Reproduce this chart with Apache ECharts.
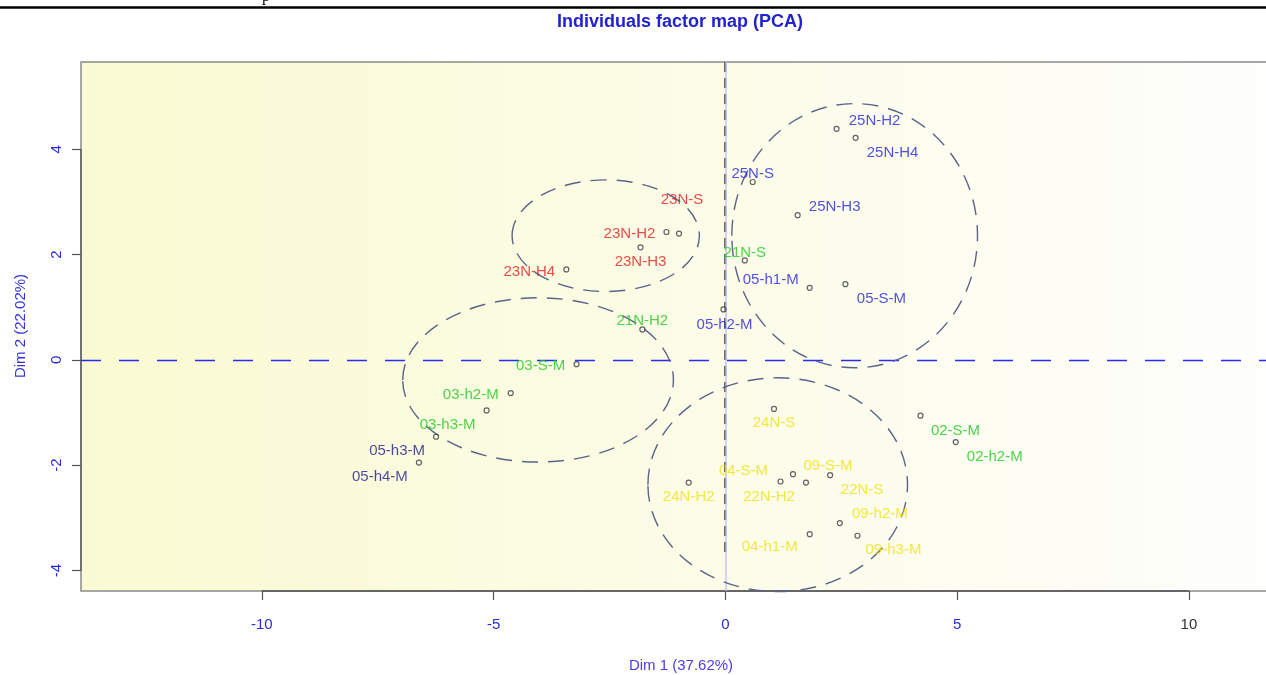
<!DOCTYPE html>
<html>
<head>
<meta charset="utf-8">
<script src="https://cdn.jsdelivr.net/npm/echarts@6/dist/echarts.min.js"></script>
<style>
  html, body { margin: 0; padding: 0; background: #ffffff; }
  #chart { width: 1266px; height: 675px; }
</style>
</head>
<body>
<div id="chart"></div>
<script>
// Individuals projected on the first two principal components
const individuals = [
  '23N-S', '23N-H2', '23N-H3', '23N-H4',
  '25N-H2', '25N-H4', '25N-S', '25N-H3',
  '21N-S', '21N-H2',
  '05-h1-M', '05-S-M', '05-h2-M', '05-h3-M', '05-h4-M',
  '03-S-M', '03-h2-M', '03-h3-M',
  '24N-S', '24N-H2',
  '04-S-M', '09-S-M', '22N-H2', '22N-S', '09-h2-M', '04-h1-M', '09-h3-M',
  '02-S-M', '02-h2-M'
];
const dim1 = [
  -1.00, -1.27, -1.83, -3.43,
  2.40, 2.81, 0.59, 1.56,
  0.42, -1.79,
  1.82, 2.59, -0.04, -6.24, -6.61,
  -3.21, -4.63, -5.15,
  1.05, -0.79,
  1.19, 1.46, 1.74, 2.26, 2.47, 1.82, 2.85,
  4.21, 4.97
];
const dim2 = [
  2.40, 2.43, 2.14, 1.72,
  4.39, 4.22, 3.38, 2.75,
  1.89, 0.58,
  1.37, 1.44, 0.96, -1.46, -1.95,
  -0.08, -0.63, -0.96,
  -0.93, -2.33,
  -2.31, -2.17, -2.33, -2.19, -3.10, -3.31, -3.34,
  -1.06, -1.56
];
const groupOf = [
  'red', 'red', 'red', 'red',
  'blue', 'blue', 'blue', 'blue',
  'green', 'green',
  'blue', 'blue', 'blue', 'navy', 'navy',
  'green', 'green', 'green',
  'yellow', 'yellow',
  'yellow', 'yellow', 'yellow', 'yellow', 'yellow', 'yellow', 'yellow',
  'green', 'green'
];
// label placement around each point, in pixels
const labelOffsets = [
  [3, -34], [-37, 2], [0, 15], [-37, 2],
  [38, -8], [37, 15], [0, -8], [37, -8],
  [0, -8], [0, -9],
  [-39, -8], [36, 15], [1, 15], [-39, 14], [-39, 14],
  [-36, 2], [-40, 2], [-39, 14],
  [0, 14], [0, 14],
  [-37, -11], [35, -8], [-37, 14], [32, 15], [40, -9], [-40, 13], [36, 14],
  [35, 15], [39, 15]
];
const groupColors = {
  red: '#dc2222',
  blue: '#2424dc',
  navy: '#1c1c88',
  green: '#22c822',
  yellow: '#f0e214'
};

// Cluster ellipses: centre and half-axes in Dim 1 / Dim 2 units
const ellipseCenterX = [-2.58, 2.79, -4.04, 1.13];
const ellipseCenterY = [2.36, 2.36, -0.38, -2.37];
const ellipseRadiusX = [2.02, 2.65, 2.92, 2.80];
const ellipseRadiusY = [1.06, 2.51, 1.56, 2.03];

const xTicks = [-10, -5, 0, 5, 10];
const yTicks = [-4, -2, 0, 2, 4];
const xRange = [-13.9, 12];
const yRange = [-4.39, 5.66];
const verticalRefEnd = -3.70;

const FONT = '"Liberation Sans", Arial, Helvetica, sans-serif';
const chart = echarts.init(document.getElementById('chart'), null, { renderer: 'canvas' });

const pointData = individuals.map((name, i) => ({
  name: name,
  value: [dim1[i], dim2[i]],
  label: { offset: labelOffsets[i], color: groupColors[groupOf[i]] }
}));

const ellipseData = ellipseCenterX.map((cx, i) => [cx, ellipseCenterY[i], ellipseRadiusX[i], ellipseRadiusY[i]]);

const option = {
  animation: false,
  backgroundColor: '#ffffff',
  grid: {
    left: 81, top: 62, width: 1200.6, height: 529,
    outerBoundsMode: 'none',
    containLabel: false,
    show: true,
    borderColor: '#8a8a8a',
    borderWidth: 1.5,
    backgroundColor: new echarts.graphic.LinearGradient(0, 0, 1, 0, [
      { offset: 0, color: '#fafad2' },
      { offset: 0.5, color: '#fcfce7' },
      { offset: 1, color: '#fefefd' }
    ])
  },
  xAxis: {
    type: 'value', min: xRange[0], max: xRange[1],
    splitLine: { show: false },
    axisLine: { show: false, onZero: false },
    axisTick: { show: true, length: 9, customValues: xTicks, lineStyle: { color: '#555', width: 1.2 } },
    axisLabel: {
      customValues: xTicks, margin: 26, fontSize: 15, fontFamily: FONT,
      color: (v) => Number(v) === 10 ? '#333333' : '#2a2ade'
    }
  },
  yAxis: {
    type: 'value', min: yRange[0], max: yRange[1],
    splitLine: { show: false },
    axisLine: { show: false, onZero: false },
    axisTick: { show: true, length: 9, customValues: yTicks, lineStyle: { color: '#555', width: 1.2 } },
    axisLabel: {
      customValues: yTicks, margin: 17, fontSize: 15, fontFamily: FONT,
      rotate: 90, color: '#2a2ade'
    }
  },
  graphic: [
    { type: 'line', shape: { x1: 0, y1: 7.5, x2: 1266, y2: 7.5 }, style: { stroke: '#000', lineWidth: 2.5 }, z: 100 },
    { type: 'text', x: 266, y: 5, style: { text: 'p', font: '16px "Liberation Serif", serif', fill: '#000', align: 'center', verticalAlign: 'bottom' }, z: 99 },
    { type: 'text', x: 680, y: 22, style: { text: 'Individuals factor map (PCA)', font: 'bold 18px ' + FONT, fill: '#2323cc', align: 'center', verticalAlign: 'middle' }, z: 100 },
    { type: 'text', x: 681, y: 666, style: { text: 'Dim 1 (37.62%)', font: '15px ' + FONT, fill: '#4b3be6', align: 'center', verticalAlign: 'middle' }, z: 100 },
    { type: 'text', x: 21, y: 326, rotation: Math.PI / 2, style: { text: 'Dim 2 (22.02%)', font: '15px ' + FONT, fill: '#3434dc', align: 'center', verticalAlign: 'middle' }, z: 100 }
  ],
  series: [
    {
      // reference lines through the origin
      type: 'line',
      data: [[0, yRange[1]], [0, verticalRefEnd]],
      symbol: 'none',
      silent: true,
      z: 3,
      lineStyle: { color: '#222', width: 2, type: [10, 6] },
      markLine: {
        silent: true, symbol: 'none', label: { show: false }, animation: false,
        data: [
          { yAxis: 0, lineStyle: { color: '#2a2aff', width: 1.3, type: [20, 18] } },
          { xAxis: 0, lineStyle: { color: '#c6c6f0', width: 1.5, type: 'solid' } }
        ]
      }
    },
    {
      // axis segments over the tick range
      type: 'line', data: [[xTicks[0], yRange[0]], [xTicks[xTicks.length - 1], yRange[0]]],
      symbol: 'none', silent: true, clip: false, z: 4,
      lineStyle: { color: '#505050', width: 1.5 }
    },
    {
      type: 'line', data: [[xRange[0], yTicks[0]], [xRange[0], yTicks[yTicks.length - 1]]],
      symbol: 'none', silent: true, clip: false, z: 4,
      lineStyle: { color: '#606060', width: 1.5 }
    },
    {
      type: 'custom',
      silent: true,
      z: 5,
      clip: false,
      data: ellipseData,
      renderItem: function (params, api) {
        const c = api.coord([api.value(0), api.value(1)]);
        const s = api.size([api.value(2), api.value(3)]);
        return {
          type: 'ellipse',
          shape: { cx: c[0], cy: c[1], rx: s[0], ry: s[1] },
          style: { fill: 'none', stroke: '#5b6389', lineWidth: 1.4, lineDash: [16, 10] }
        };
      }
    },
    {
      type: 'scatter',
      data: pointData,
      symbol: 'circle',
      symbolSize: 5,
      z: 10,
      itemStyle: { color: 'rgba(255,255,255,0.4)', borderColor: '#3c3c3c', borderWidth: 1.2 },
      label: {
        show: true, position: 'inside', formatter: '{b}',
        fontSize: 15, fontFamily: FONT, align: 'center', verticalAlign: 'middle'
      },
      emphasis: { disabled: true }
    }
  ]
};

chart.setOption(option);
</script>
</body>
</html>
